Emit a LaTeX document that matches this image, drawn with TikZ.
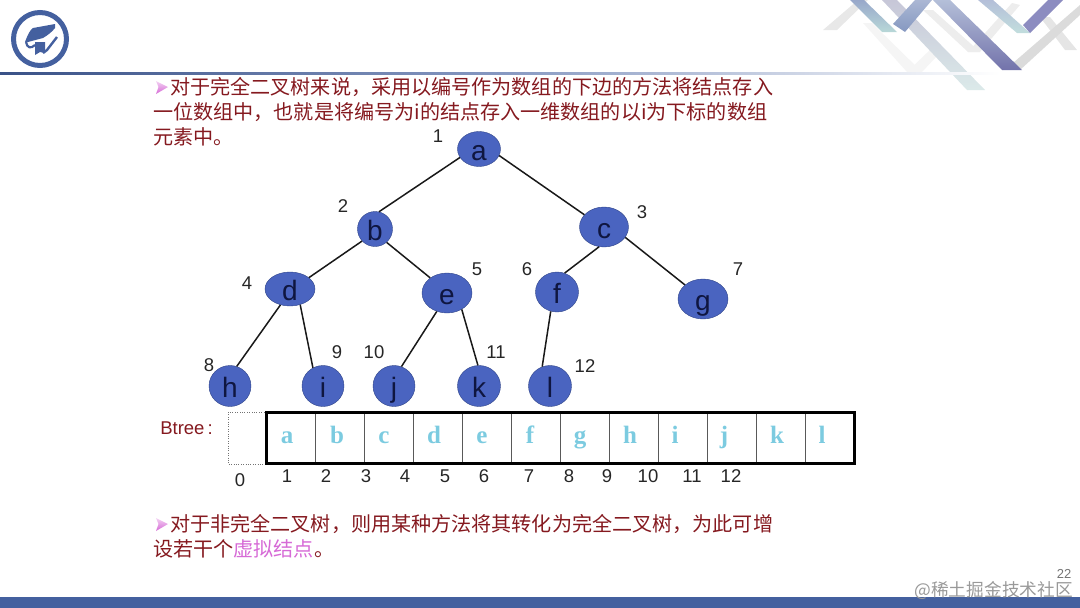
\documentclass[tikz,border=0pt]{standalone}
\usepackage{fontspec}
\setmainfont{Liberation Sans}
\newfontfamily\cjk{Noto Sans CJK SC}
\newfontfamily\serifbold{Liberation Serif}[BoldFont={Liberation Serif Bold}]
\usepackage{tikz}
\usetikzlibrary{shapes.geometric}
\definecolor{bandblue}{HTML}{44609F}
\definecolor{ballblue}{HTML}{4A64C0}
\definecolor{balledge}{HTML}{2F4488}
\definecolor{lettercol}{HTML}{0F1640}
\definecolor{textred}{HTML}{85191F}
\definecolor{softpink}{HTML}{D66AD6}
\definecolor{cellcyan}{HTML}{7CCBE0}
\tikzset{
    ball/.style={ellipse, draw=balledge, fill=ballblue, inner sep=0pt, text height=22pt, text depth=0pt,
        font=\fontsize{28}{28}\selectfont, text=lettercol},
    tag/.style={font=\fontsize{18.5}{19}\selectfont, text=black!85, text height=13pt, text depth=0pt, inner sep=0pt},
    cellchar/.style={anchor=base, font=\serifbold\bfseries\fontsize{25}{25}\selectfont, text=cellcyan},
    para/.style={anchor=base west, inner sep=0pt, font=\cjk\fontsize{20.1}{24}\selectfont, text=textred},
    link/.style={draw=black!90, line width=1.5pt}
}
\begin{document}
\begin{tikzpicture}[x=1pt, y=-1pt]
    \useasboundingbox (0,0) rectangle (1080,608);

    % Ribbons in the corner
    \fill[black!9] (823,30) -- (858,0) -- (868,0) -- (837,30) -- cycle;
    \fill[black!4] (863,23) -- (872,23) -- (922,72) -- (907,72) -- cycle;
    \fill[black!4] (907,72) -- (933,47) -- (940,53) -- (922,72) -- cycle;
    \fill[black!7] (923,10) -- (933,10) -- (980,52) -- (968,52) -- cycle;
    \fill[black!7] (968,52) -- (1012,3) -- (1020,5) -- (980,52) -- cycle;
    \fill[black!10] (1040,17) -- (1050,17) -- (1077,50) -- (1065,50) -- cycle;
    \shade[top color=blue!30!black!22, bottom color=cyan!40!black!14]
        (882,0) -- (897,0) -- (985,90) -- (967,90) -- cycle;
    \shade[top color=bandblue!55, bottom color=cyan!45!black!28]
        (850,0) -- (864,0) -- (897,32) -- (882,32) -- cycle;
    \shade[top color=bandblue!45, bottom color=bandblue!65]
        (915,0) -- (932,0) -- (905,32) -- (893,24) -- cycle;
    \fill[black!14] (1013,63) -- (1080,5) -- (1080,15) -- (1020,70) -- cycle;
    \shade[top color=bandblue!40, bottom color=blue!40!black!55]
        (933,0) -- (950,0) -- (1022,70) -- (1002,70) -- cycle;
    \shade[top color=bandblue!40, bottom color=cyan!45!black!24]
        (978,0) -- (993,0) -- (1030,33) -- (1017,33) -- cycle;
    \fill[blue!45!black!45] (1048,0) -- (1063,0) -- (1030,33) -- (1023,25) -- cycle;

    % Header and footer
    \shade[left color=bandblue!85!black, right color=white, middle color=bandblue!65]
        (0,72) rectangle (1000,74.5);
    \fill[bandblue] (0,597) rectangle (1080,608);

    % Logo
    \draw[bandblue, line width=5pt] (40,39) circle[radius=26.5pt];
    \fill[bandblue] (25,42) .. controls (28,34) and (30,30) .. (33,28) -- (55,24) -- (55,28)
        .. controls (52,32) and (48,35) .. (43,38) -- (28,42) -- cycle;
    \draw[bandblue, line width=2.2pt] (26,42) .. controls (27,48) and (31,49) .. (35,45);
    \fill[bandblue] (35,42) -- (45,42) -- (45,53) -- (40,52) -- (35,55) -- cycle;
    \draw[bandblue, line width=2.4pt] (43,53) -- (47,50) -- (57,37);

    % Arrow marks of the two paragraphs
    \foreach \ypos in {87,524}
        \shade[top color=softpink!30, bottom color=softpink]
            (156,{\ypos-6}) -- (168,\ypos) -- (156,{\ypos+7}) -- (158.5,\ypos) -- cycle;

    % Upper paragraph
    \node[para] (line1) at (170,94) {对于完全二叉树来说，采用以编号作为数组的下边的方法将结点存入};
    \node[para] (line2) at (153,119) {一位数组中，也就是将编号为i的结点存入一维数组的以i为下标的数组};
    \node[para] (line3) at (153,144) {元素中。};

    % Tree
    \node[ball, minimum width=43pt, minimum height=35pt] (a) at (479,149) {a};
    \node[ball, minimum width=35pt, minimum height=35pt] (b) at (375,229) {b};
    \node[ball, minimum width=49pt, minimum height=40pt] (c) at (604,227) {c};
    \node[ball, minimum width=50pt, minimum height=34pt] (d) at (290,289) {d};
    \node[ball, minimum width=50pt, minimum height=40pt] (e) at (447,293) {e};
    \node[ball, minimum width=43pt, minimum height=40pt] (f) at (557,292) {f};
    \node[ball, minimum width=50pt, minimum height=40pt] (g) at (703,299) {g};
    \node[ball, minimum width=42pt, minimum height=41pt] (h) at (230,386) {h};
    \node[ball, minimum width=42pt, minimum height=41pt] (i) at (323,386) {i};
    \node[ball, minimum width=42pt, minimum height=41pt] (j) at (394,386) {j};
    \node[ball, minimum width=43pt, minimum height=41pt] (k) at (479,386) {k};
    \node[ball, minimum width=43pt, minimum height=41pt] (l) at (550,386) {l};
    \foreach \from/\to in {a.204/b.77, a.342/c.148, b.223/d.31, b.311/e.138, c.256/f.68, c.334/g.142,
        d.239/h.71, d.303/i.119, e.241/j.69, e.312/k.93, f.252/l.112}
        \draw[link] (\from) -- (\to);

    % Numbers next to the tree
    \foreach \name/\xpos/\ypos/\txt in {n1/438/136/1, n2/343/206/2, n3/642/212/3, n4/247/283/4,
        n5/477/269/5, n6/527/269/6, n7/738/269/7, n8/209/365/8, n9/337/352/9,
        n10/374/352/10, n11/496/352/11, n12/585/366/12}
        \node[tag] (\name) at (\xpos,\ypos) {\txt};

    % Array
    \node[font=\fontsize{18.5}{19}\selectfont, text=textred] (btree) at (186.5,428) {Btree\,:};
    \draw[black!55, dotted] (228,412) rectangle (266,464);
    \foreach \xpos in {315,364,413,462,511,560,609,658,707,756,805}
        \draw[black!65, line width=1pt] (\xpos,412) -- (\xpos,463);
    \draw[black, line width=3pt] (266,412) rectangle (854,463);
    \foreach \xpos/\txt in {287/a, 337/b, 384/c, 434/d, 482/e, 530/f, 580/g, 630/h, 675/i, 724/j, 777/k, 822/l}
        \node[cellchar] (cell\txt) at (\xpos,443) {\txt};
    \node[tag] (idx0) at (240,480) {0};
    \foreach \xpos/\txt in {287/1, 326/2, 366/3, 405/4, 445/5, 484/6, 529/7, 569/8, 607/9, 648/10, 692/11, 731/12}
        \node[tag] (idx\txt) at (\xpos,475.5) {\txt};

    % Lower paragraph
    \node[para] (line4) at (170,531) {对于非完全二叉树，则用某种方法将其转化为完全二叉树，为此可增};
    \node[para] (line5) at (153,556) {设若干个\textcolor{softpink}{虚拟结点}。};

    % Page number and mark
    \node[font=\fontsize{13}{13}\selectfont, text=black!55] (page) at (1064,574) {22};
    \node[font=\cjk\fontsize{17.7}{18}\selectfont, text=black!40, anchor=east, inner sep=0pt] (stamp) at (1073,591) {@稀土掘金技术社区};
\end{tikzpicture}
\end{document}
